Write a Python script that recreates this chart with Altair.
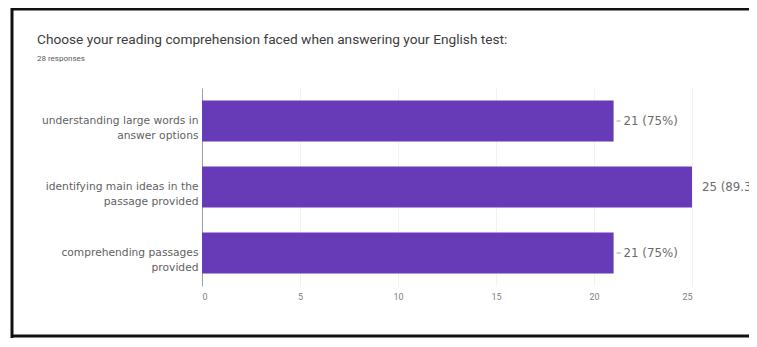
import altair as alt
import pandas as pd

title_text = "Choose your reading comprehension faced when answering your English test:"
subtitle_text = "28 responses"
categories = [
    "understanding large words in\nanswer options",
    "identifying main ideas in the\npassage provided",
    "comprehending passages\nprovided",
]
counts = [21, 25, 21]
labels = ["21 (75%)", "25 (89.3%)", "21 (75%)"]
x_ticks = [0, 5, 10, 15, 20, 25]

df = pd.DataFrame({"category": categories, "count": counts, "label": labels})
title_df = pd.DataFrame({"t": [title_text]})
subtitle_df = pd.DataFrame({"t": [subtitle_text]})

FONT = "Roboto"
WIDE = "DejaVu Sans"
PURPLE = "#673ab7"

y_enc = alt.Y(
    "category:N",
    sort=categories,
    title=None,
    scale=alt.Scale(paddingInner=0.38, paddingOuter=0.19),
    axis=alt.Axis(
        labelExpr="split(datum.label, '\\n')",
        labelFont=WIDE,
        labelFontSize=10.7,
        labelColor="#5f5f5f",
        labelLineHeight=15,
        labelPadding=4,
        ticks=False,
        domain=True,
        domainColor="#9e9e9e",
        labelLimit=300,
    ),
)

x_enc = alt.X(
    "count:Q",
    title=None,
    scale=alt.Scale(domain=[0, 25], nice=False),
    axis=alt.Axis(
        values=x_ticks,
        labelFont=FONT,
        labelFontSize=9,
        labelColor="#808080",
        labelPadding=6,
        ticks=False,
        domain=False,
        grid=True,
        gridColor="#f2f2f2",
    ),
)

bars = alt.Chart(df).mark_bar(color=PURPLE).encode(x=x_enc, y=y_enc)

dash = (
    alt.Chart(df)
    .transform_filter("datum.count < 25")
    .mark_rule(color="#9e9e9e", xOffset=3, x2Offset=7, strokeWidth=1)
    .encode(x="count:Q", x2="count:Q", y=alt.Y("category:N", sort=categories, bandPosition=0.5))
)

text = (
    alt.Chart(df)
    .mark_text(align="left", baseline="middle", dx=10, font=WIDE, fontSize=11.8, color="#6b6b6b")
    .encode(x="count:Q", y=alt.Y("category:N", sort=categories), text="label:N")
)

title_mark = alt.Chart(title_df).mark_text(
    align="left", baseline="alphabetic", font=FONT, fontSize=13.7, color="#3c3c3c"
).encode(x=alt.value(-165), y=alt.value(-44), text="t:N")

subtitle_mark = alt.Chart(subtitle_df).mark_text(
    align="left", baseline="alphabetic", font=FONT, fontSize=8, color="#5a5a5a"
).encode(x=alt.value(-165), y=alt.value(-27), text="t:N")

frame_left = alt.Chart(title_df).mark_rule(color="#111111", strokeWidth=3).encode(
    x=alt.value(-190), y=alt.value(-80), y2=alt.value(250)
)
frame_top = alt.Chart(title_df).mark_rule(color="#111111", strokeWidth=3).encode(
    x=alt.value(-191), x2=alt.value(560), y=alt.value(-79)
)
frame_bottom = alt.Chart(title_df).mark_rule(color="#111111", strokeWidth=3).encode(
    x=alt.value(-191), x2=alt.value(560), y=alt.value(248)
)

chart = (
    alt.layer(bars, dash, text, title_mark, subtitle_mark, frame_left, frame_top, frame_bottom)
    .properties(
        width=490,
        height=198,
        autosize=alt.AutoSizeParams(type="none"),
        padding={"left": 194, "top": 80, "right": 57, "bottom": 52},
    )
    .configure_view(stroke=None)
)

chart.save("out.html", embed_options={"renderer": "svg", "actions": False})
